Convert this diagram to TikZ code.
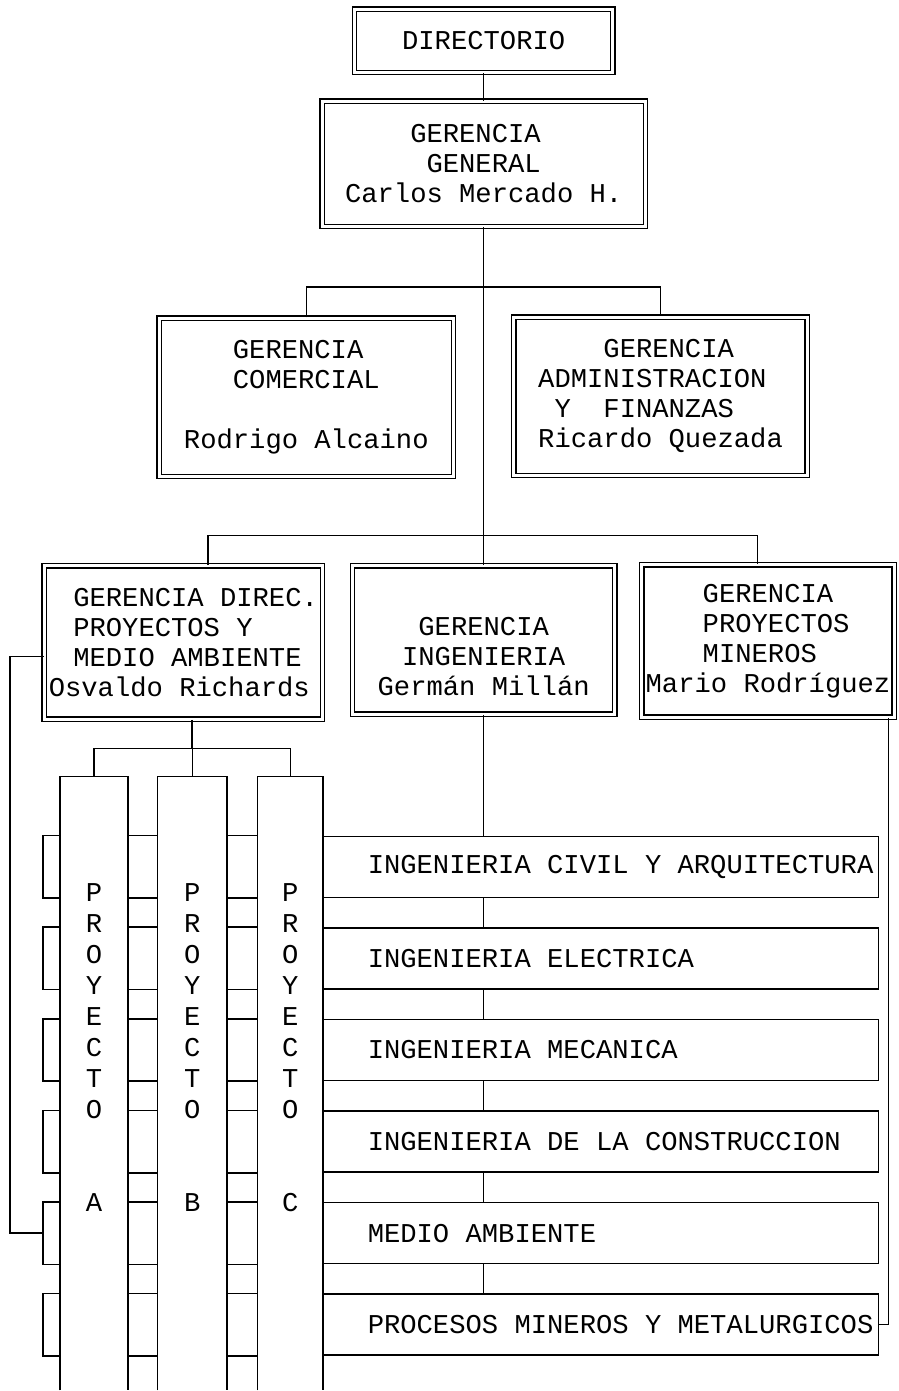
\documentclass[tikz,border=0pt]{standalone}
\usepackage{fontspec}
\newfontfamily\chartfont{Liberation Mono}

\begin{document}
\begin{tikzpicture}[x=1pt, y=-1pt,
    dbox/.style={draw, double, double distance=3pt, line width=1.3pt, inner sep=0pt, align=center, font=\chartfont\fontsize{27.2}{30}\selectfont},
    rowbox/.style={draw, line width=1.5pt, minimum width=556pt, minimum height=61pt, text width=556pt, inner xsep=0pt, align=left, execute at begin node={\spaceskip=0.6em\relax\noindent\hspace*{45pt}}, font=\chartfont\fontsize{27.2}{30}\selectfont},
    colstrip/.style={minimum height=614pt, inner sep=0pt},
    colword/.style={align=center, inner sep=0pt, font=\chartfont\fontsize{27.2}{31}\selectfont},
    link/.style={line width=1.5pt}
]
    \fill[white] (0,0) rectangle (899,1391);

    \node[dbox, minimum width=258.5pt, minimum height=63.5pt] (dir) at (484,41) {DIRECTORIO};
    \node[dbox, minimum width=323.5pt, minimum height=125.5pt, align=left] (gg) at (484,164)
        {\hspace*{2.4em}GERENCIA\\\hspace*{3em}GENERAL\\Carlos Mercado H.};

    \node[dbox, minimum width=294.5pt, minimum height=158.5pt, align=left] (com) at (306.5,397.5)
        {\hspace*{1.8em}GERENCIA\\\hspace*{1.8em}COMERCIAL\\[30pt]Rodrigo Alcaino};
    \node[dbox, minimum width=293.5pt, minimum height=158.5pt, align=left] (adm) at (661,396.5)
        {\hspace*{2.4em}GERENCIA\\ADMINISTRACION\\\hspace*{0.6em}Y~~FINANZAS\\Ricardo Quezada};

    \node[dbox, minimum width=278.5pt, minimum height=153.5pt, align=left] (dpm) at (183.5,643)
        {\hspace*{0.9em}GERENCIA DIREC.\\\hspace*{0.9em}PROYECTOS Y\\\hspace*{0.9em}MEDIO AMBIENTE\\Osvaldo Richards};
    \node[dbox, minimum width=262.5pt, minimum height=148.5pt] (ing) at (484,640.5)
        {\strut\\GERENCIA\\INGENIERIA\\Germán Millán};
    \node[dbox, minimum width=252.5pt, minimum height=152.5pt, align=left] (min) at (768.5,641.5)
        {\hspace*{2.1em}GERENCIA\\\hspace*{2.1em}PROYECTOS\\\hspace*{2.1em}MINEROS\\Mario Rodríguez};

    \node[colstrip, minimum width=68pt] (pa) at (94,1084) {};
    \node[colstrip, minimum width=69pt] (pb) at (192.5,1084) {};
    \node[colstrip, minimum width=65pt] (pc) at (290.5,1084) {};
    \foreach \c in {pa,pb,pc}
        \draw[link] (\c.south west) |- (\c.north east) -- (\c.south east);

    \node[colword] (wa) at (94,1048) {P\\R\\O\\Y\\E\\C\\T\\O\\[62pt]A};
    \node[colword] (wb) at (192.5,1048) {P\\R\\O\\Y\\E\\C\\T\\O\\[62pt]B};
    \node[colword] (wc) at (290.5,1048) {P\\R\\O\\Y\\E\\C\\T\\O\\[62pt]C};

    \foreach \i/\txt in {1/INGENIERIA CIVIL Y ARQUITECTURA, 2/INGENIERIA ELECTRICA,
                         3/INGENIERIA MECANICA, 4/INGENIERIA DE LA CONSTRUCCION,
                         5/MEDIO AMBIENTE, 6/PROCESOS MINEROS Y METALURGICOS}
        \node[rowbox] (r\i) at (601, {867.5+91.6*(\i-1)}) {\txt};

    \coordinate (brk) at (43,0);
    \foreach \i in {1,...,6} {
        \draw[link] (r\i.north -| pa.west) -- (r\i.north -| brk) -- (r\i.south -| brk) -- (r\i.south -| pa.west);
        \draw[link] (r\i.north -| pa.east) -- (r\i.north -| pb.west);
        \draw[link] (r\i.south -| pa.east) -- (r\i.south -| pb.west);
        \draw[link] (r\i.north -| pb.east) -- (r\i.north -| pc.west);
        \draw[link] (r\i.south -| pb.east) -- (r\i.south -| pc.west);
    }

    \coordinate (b1) at (484,287);
    \coordinate (b2l) at (208,536);
    \coordinate (b2r) at (758,536);
    \coordinate (b3) at (192,749);
    \coordinate (lk) at (10,657);
    \coordinate (rk) at (889,720);

    \draw[link] (dir) -- (gg);
    \draw[link] (gg) -- (ing);
    \draw[link] (com.north) |- (b1) -| (adm.north);
    \draw[link] (b2l |- dpm.north) -- (b2l) -- (b2r) -- (b2r |- min.north);
    \draw[link] (ing.south) -- (ing.south |- r1.north);
    \foreach \i [count=\j from 2] in {1,...,5}
        \draw[link] (ing.south |- r\i.south) -- (ing.south |- r\j.north);

    \draw[link] (dpm.south -| b3) -- (b3);
    \draw[link] (pa.north) |- (b3) -| (pc.north);
    \draw[link] (pb.north) -- (pb.north |- b3);

    \draw[link] (dpm.west |- lk) -- (lk) |- (brk |- r5.west);
    \draw[link] (min.south -| rk) -- (rk |- r6.east) -- (r6.east);
\end{tikzpicture}
\end{document}
